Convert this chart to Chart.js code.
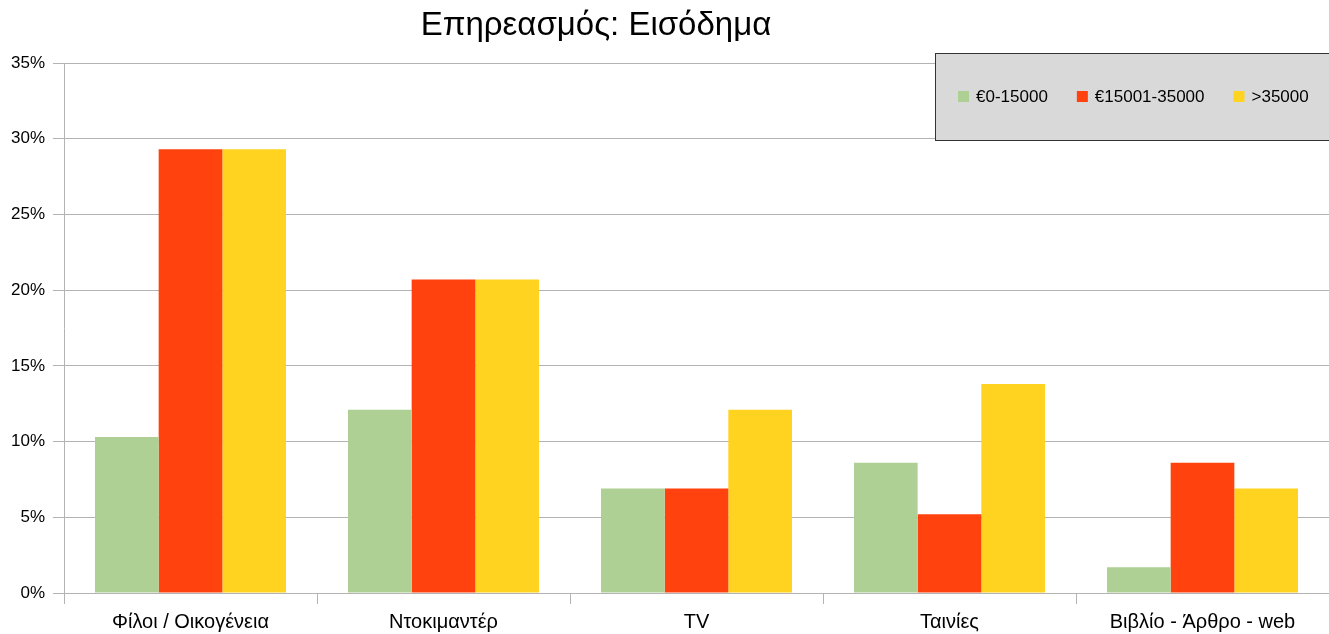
<!DOCTYPE html>
<html>
<head>
  <title>Επηρεασμός: Εισόδημα</title>
  <script src="https://cdn.jsdelivr.net/npm/chart.js"></script>
  <style>
    html, body { margin: 0; padding: 0; background: #fff; }
    #chart-container { width: 1329px; height: 634px; position: relative; }
    #chart-title {
      position: absolute;
      left: 396px;
      width: 400px;
      top: 5px;
      text-align: center;
      font-family: 'Liberation Sans', Arial, sans-serif;
      font-size: 33px;
      line-height: 38px;
      color: #000;
    }
  </style>
</head>
<body>
  <div id="chart-container">
    <div id="chart-title">Επηρεασμός: Εισόδημα</div>
    <canvas id="myChart"></canvas>
  </div>
  <script>
    const categories = ['Φίλοι / Οικογένεια', 'Ντοκιμαντέρ', 'TV', 'Ταινίες', 'Βιβλίο - Άρθρο - web'];
    const seriesNames = ['€0-15000', '€15001-35000', '>35000'];
    const low = [10.3, 12.1, 6.9, 8.6, 1.7];
    const mid = [29.3, 20.7, 6.9, 5.2, 8.6];
    const high = [29.3, 20.7, 12.1, 13.8, 6.9];
    const yTicks = [0, 5, 10, 15, 20, 25, 30, 35];

    const colors = ['#afd095', '#ff420e', '#ffd320'];
    const font = "'Liberation Sans', Arial, sans-serif";

    // Легенда в сером прямоугольнике справа сверху
    const legendBox = {
      id: 'legendBox',
      afterDraw(chart) {
        const ctx = chart.ctx;
        ctx.save();
        ctx.fillStyle = '#d9d9d9';
        ctx.fillRect(935, 53, 400, 87);
        ctx.strokeStyle = '#333';
        ctx.lineWidth = 1;
        ctx.strokeRect(935.5, 53.5, 400, 87);
        ctx.font = '17px ' + font;
        ctx.textBaseline = 'middle';
        let x = 958;
        chart.data.datasets.forEach((ds) => {
          ctx.fillStyle = ds.backgroundColor;
          ctx.fillRect(x, 91, 11, 11);
          ctx.fillStyle = '#000';
          ctx.fillText(ds.label, x + 18, 97);
          x += 18 + ctx.measureText(ds.label).width + 29;
        });
        ctx.restore();
      }
    };

    const ctx = document.getElementById('myChart').getContext('2d');
    new Chart(ctx, {
      type: 'bar',
      data: {
        labels: categories,
        datasets: [
          { label: seriesNames[0], data: low, backgroundColor: colors[0] },
          { label: seriesNames[1], data: mid, backgroundColor: colors[1] },
          { label: seriesNames[2], data: high, backgroundColor: colors[2] }
        ]
      },
      options: {
        responsive: true,
        maintainAspectRatio: false,
        animation: false,
        layout: { padding: { left: 0, right: 0, top: 63, bottom: 0 } },
        datasets: {
          bar: { categoryPercentage: 0.755, barPercentage: 1 }
        },
        scales: {
          x: {
            grid: {
              offset: true,
              drawOnChartArea: false,
              color: '#b3b3b3',
              tickLength: 11
            },
            border: { color: '#b3b3b3' },
            ticks: {
              color: '#000',
              font: { family: font, size: 20 },
              padding: 6
            },
            afterFit: (scale) => { scale.height = 41; }
          },
          y: {
            min: 0,
            max: 35,
            afterBuildTicks: (scale) => { scale.ticks = yTicks.map((v) => ({ value: v })); },
            grid: { color: '#b3b3b3', tickLength: 11 },
            border: { color: '#b3b3b3' },
            ticks: {
              color: '#000',
              font: { family: font, size: 17 },
              padding: 8,
              callback: (v) => v + '%'
            },
            afterFit: (scale) => { scale.width = 64; }
          }
        },
        plugins: {
          legend: { display: false },
          tooltip: { enabled: false },
          title: { display: false }
        }
      },
      plugins: [legendBox]
    });
  </script>
</body>
</html>
